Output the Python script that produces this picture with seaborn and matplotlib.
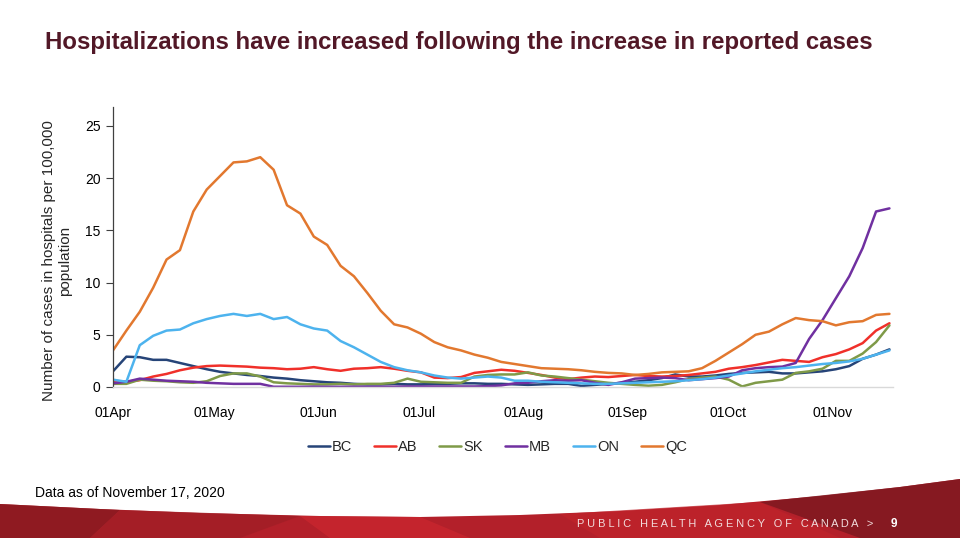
import numpy as np
import pandas as pd
import matplotlib.pyplot as plt
import matplotlib.dates as mdates
from matplotlib.patches import Polygon
import seaborn as sns

# --- data (roughly every 4 days) ---
dates = pd.date_range("2020-04-01", "2020-11-18", periods=59)

bc = [1.5, 2.9, 2.85, 2.6, 2.6, 2.3, 2.0, 1.7, 1.45, 1.3,
      1.15, 1.05, 0.9, 0.8, 0.65, 0.55, 0.45, 0.4, 0.3, 0.25,
      0.25, 0.3, 0.25, 0.25, 0.3, 0.3, 0.35, 0.35, 0.3, 0.3,
      0.25, 0.2, 0.25, 0.3, 0.3, 0.1, 0.2, 0.3, 0.4, 0.5,
      0.65, 0.85, 1.2, 1.0, 1.0, 1.1, 1.25, 1.35, 1.4, 1.45,
      1.3, 1.3, 1.4, 1.5, 1.7, 2.0, 2.7, 3.1, 3.6]
ab = [0.6, 0.5, 0.65, 1.0, 1.25, 1.6, 1.85, 2.0, 2.05, 2.0,
      1.95, 1.85, 1.8, 1.7, 1.75, 1.9, 1.7, 1.55, 1.75, 1.8,
      1.9, 1.75, 1.55, 1.4, 0.9, 0.85, 0.95, 1.35, 1.5, 1.65,
      1.55, 1.35, 1.15, 0.9, 0.75, 0.9, 1.0, 0.95, 1.05, 1.15,
      1.05, 1.0, 1.05, 1.15, 1.3, 1.45, 1.75, 1.9, 2.1, 2.35,
      2.6, 2.5, 2.4, 2.85, 3.15, 3.6, 4.2, 5.4, 6.1]
sk = [0.3, 0.3, 0.7, 0.6, 0.55, 0.45, 0.4, 0.55, 1.05, 1.3,
      1.3, 1.0, 0.45, 0.35, 0.3, 0.25, 0.25, 0.3, 0.25, 0.3,
      0.3, 0.4, 0.8, 0.5, 0.45, 0.4, 0.4, 1.0, 1.15, 1.2,
      1.2, 1.4, 1.1, 1.0, 0.85, 0.7, 0.55, 0.4, 0.3, 0.2,
      0.12, 0.2, 0.45, 0.75, 0.9, 1.0, 0.7, 0.05, 0.4, 0.55,
      0.7, 1.35, 1.5, 1.75, 2.5, 2.5, 3.2, 4.3, 5.9]
mb = [0.35, 0.5, 0.8, 0.7, 0.6, 0.55, 0.5, 0.4, 0.35, 0.3,
      0.3, 0.3, 0.02, 0.02, 0.02, 0.03, 0.02, 0.02, 0.03, 0.02,
      0.02, 0.03, 0.05, 0.05, 0.05, 0.05, 0.05, 0.05, 0.08, 0.15,
      0.35, 0.4, 0.55, 0.65, 0.6, 0.65, 0.4, 0.2, 0.45, 0.8,
      0.85, 0.9, 0.85, 0.65, 0.75, 0.85, 1.0, 1.6, 1.8, 1.9,
      1.95, 2.3, 4.6, 6.4, 8.5, 10.6, 13.3, 16.8, 17.1]
on = [0.7, 0.5, 4.0, 4.9, 5.4, 5.5, 6.1, 6.5, 6.8, 7.0,
      6.8, 7.0, 6.5, 6.7, 6.0, 5.6, 5.4, 4.4, 3.8, 3.1,
      2.4, 1.9, 1.6, 1.4, 1.1, 0.9, 0.8, 0.9, 1.0, 0.9,
      0.6, 0.6, 0.5, 0.45, 0.4, 0.35, 0.3, 0.3, 0.35, 0.4,
      0.45, 0.5, 0.55, 0.65, 0.75, 0.9, 1.1, 1.3, 1.5, 1.65,
      1.8, 1.9, 2.05, 2.2, 2.3, 2.45, 2.7, 3.1, 3.5]
qc = [3.5, 5.4, 7.2, 9.5, 12.2, 13.1, 16.8, 18.9, 20.2, 21.5,
      21.6, 22.0, 20.8, 17.4, 16.6, 14.4, 13.6, 11.6, 10.6, 9.0,
      7.3, 6.0, 5.7, 5.1, 4.3, 3.8, 3.5, 3.1, 2.8, 2.4,
      2.2, 2.0, 1.8, 1.75, 1.7, 1.6, 1.45, 1.35, 1.3, 1.15,
      1.25, 1.4, 1.45, 1.5, 1.8, 2.5, 3.3, 4.1, 5.0, 5.3,
      6.0, 6.6, 6.4, 6.3, 5.9, 6.2, 6.3, 6.9, 7.0]

provinces = ["BC", "AB", "SK", "MB", "ON", "QC"]
series = [bc, ab, sk, mb, on, qc]
colors = {"BC": "#264478", "AB": "#F0302A", "SK": "#7F9A48",
          "MB": "#7030A0", "ON": "#4DB3EE", "QC": "#E2782F"}
month_ticks = pd.date_range("2020-04-01", "2020-11-01", freq="MS")

df = pd.concat([pd.DataFrame({"date": dates, "value": v, "prov": p})
                for p, v in zip(provinces, series)], ignore_index=True)

sns.set_theme(style="white")
plt.rcParams["font.family"] = ["Liberation Sans", "DejaVu Sans"]

fig = plt.figure(figsize=(9.6, 5.38), dpi=100)
ax = fig.add_axes([0.1177, 0.2807, 0.8123, 0.5203])

sns.lineplot(data=df, x="date", y="value", hue="prov", hue_order=provinces,
             palette=colors, linewidth=1.8, ax=ax, legend=True)

ax.set_xlim(pd.Timestamp("2020-04-01"), pd.Timestamp("2020-11-19"))
ax.set_ylim(0, 26.8)
ax.set_yticks([0, 5, 10, 15, 20, 25])
ax.set_xticks(month_ticks)
ax.xaxis.set_major_formatter(mdates.DateFormatter("%d%b"))
ax.tick_params(axis="x", length=0, pad=14, labelsize=10, colors="black")
ax.tick_params(axis="y", left=True, length=5, width=0.8, color="#404040",
               pad=4, labelsize=10, labelcolor="black")
for s in ["top", "right"]:
    ax.spines[s].set_visible(False)
ax.spines["left"].set_color("#404040")
ax.spines["left"].set_linewidth(0.9)
ax.spines["bottom"].set_color("#d9d9d9")
ax.spines["bottom"].set_linewidth(1.0)
ax.set_xlabel("")
ax.set_ylabel("")

handles, labels = ax.get_legend_handles_labels()
ax.get_legend().remove()
fig.legend(handles, labels, loc="center", bbox_to_anchor=(0.518, 0.169),
           ncol=6, frameon=False, fontsize=10.5, handlelength=1.5,
           handletextpad=0.15, columnspacing=1.5)

fig.text(0.059, 0.515, "Number of cases in hospitals per 100,000\npopulation",
         rotation=90, ha="center", va="center", fontsize=11,
         multialignment="center")

fig.text(45 / 960, 1 - 43 / 538,
         "Hospitalizations have increased following the increase in reported cases",
         fontsize=17.3, fontweight="bold", color="#521827", va="center", ha="left")

fig.text(35 / 960, 1 - 493 / 538, "Data as of November 17, 2020",
         fontsize=10, color="black", va="center", ha="left")

# --- red banner at the bottom ---
def px(points):
    return [(x / 960, 1 - y / 538) for x, y in points]

curve = [(0, 504), (100, 509), (200, 513), (320, 516), (420, 517), (520, 515),
         (620, 511), (720, 505), (820, 496), (900, 487), (960, 479)]
band = curve + [(960, 538), (0, 538)]
fig.patches.append(Polygon(px(band), closed=True, transform=fig.transFigure,
                           facecolor="#B3202A", edgecolor="none", zorder=0))
shades = [
    ([(0, 504), (120, 510), (90, 538), (0, 538)], "#8C1A21", 0.9),
    ([(300, 516), (420, 517), (470, 538), (330, 538)], "#C9262E", 0.8),
    ([(560, 514), (760, 502), (840, 538), (600, 538)], "#C0232B", 0.7),
    ([(760, 502), (900, 487), (960, 479), (960, 538), (860, 538)], "#7E1820", 0.85),
    ([(120, 510), (300, 516), (240, 538), (90, 538)], "#A11E26", 0.8),
]
for pts, col, a in shades:
    fig.patches.append(Polygon(px(pts), closed=True, transform=fig.transFigure,
                               facecolor=col, edgecolor="none", alpha=a, zorder=0))

words = "PUBLIC HEALTH AGENCY OF CANADA >".split(" ")
banner_text = "   ".join(" ".join(w) for w in words)
fig.text(577 / 960, 1 - 524 / 538, banner_text, fontsize=7.9, color="#f2dcdc",
         va="center", ha="left")
fig.text(894 / 960, 1 - 524 / 538, "9", fontsize=8.5, color="white",
         fontweight="bold", va="center", ha="center")

fig.savefig("out.png", dpi=100)
